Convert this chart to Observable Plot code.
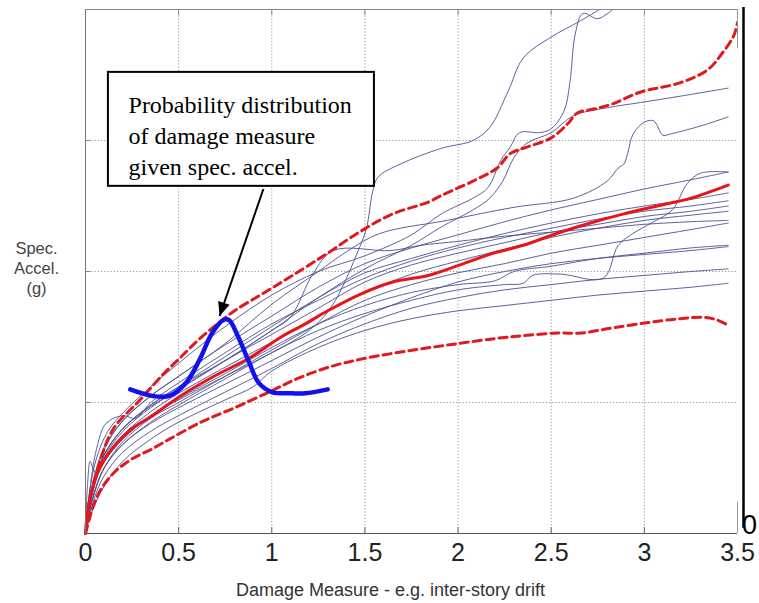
<!DOCTYPE html>
<html><head><meta charset="utf-8">
<script src="https://cdn.jsdelivr.net/npm/d3@7"></script>
<script src="https://cdn.jsdelivr.net/npm/@observablehq/plot@0.6"></script>
<style>body{margin:0;background:#fff;}</style>
</head><body><div id="chart"></div>
<script>
// ---- tick / grid values ----
const xTicks = [0, 0.5, 1, 1.5, 2, 2.5, 3, 3.5];
const yGrid = [1, 2, 3];

// ---- individual record IDA curves: [drift, Sa] ----
const gmA = [[0,0],[0.03,0.28],[0.1,0.55],[0.2,0.72],[0.35,0.9],[0.5,1.02],[0.75,1.2],[1.0,1.38],[1.2,1.55],[1.32,1.73],[1.47,2.18],[1.51,2.34],[1.54,2.6],[1.57,2.72],[1.69,2.82],[1.91,2.94],[2.08,3.0],[2.17,3.1],[2.27,3.38],[2.35,3.63],[2.5,3.79],[2.64,3.9],[2.76,4.0]];
const gmB = [[0,0],[0.02,0.3],[0.06,0.58],[0.12,0.78],[0.2,0.92],[0.35,1.12],[0.5,1.3],[0.75,1.58],[1.0,1.82],[1.25,2.0],[1.5,2.12],[1.75,2.28],[1.91,2.44],[2.08,2.56],[2.16,2.64],[2.23,2.85],[2.28,2.95],[2.33,3.06],[2.44,3.06],[2.5,3.09],[2.57,3.23],[2.6,3.44],[2.63,3.82],[2.67,3.97],[2.75,3.93],[2.83,4.0]];
const gmC = [[0,0],[0.03,0.3],[0.1,0.6],[0.2,0.8],[0.35,0.98],[0.5,1.12],[0.75,1.32],[1.0,1.55],[1.25,1.8],[1.5,2.02],[1.75,2.2],[1.91,2.34],[2.08,2.47],[2.17,2.56],[2.24,2.69],[2.3,2.87],[2.37,2.98],[2.5,3.06],[2.62,3.19],[2.8,3.25],[2.98,3.29],[3.2,3.34],[3.45,3.4]];
const gmD = [[0,0],[0.03,0.32],[0.1,0.64],[0.2,0.86],[0.35,1.05],[0.5,1.2],[0.75,1.45],[1.0,1.75],[1.25,2.0],[1.4,2.15],[1.58,2.29],[1.94,2.39],[2.3,2.49],[2.62,2.56],[2.8,2.69],[2.86,2.79],[2.89,2.82],[2.91,2.9],[2.94,3.05],[3.0,3.14],[3.05,3.15],[3.1,3.04],[3.14,3.05],[3.3,3.11],[3.45,3.18]];
const gmE = [[0,0],[0.02,0.2],[0.05,0.42],[0.1,0.6],[0.2,0.8],[0.35,0.97],[0.5,1.1],[0.75,1.32],[1.0,1.55],[1.1,1.65],[1.22,1.98],[1.33,2.16],[1.64,2.16],[1.8,2.2],[2.0,2.23],[2.25,2.27],[2.5,2.3],[2.75,2.33],[3.0,2.36],[3.25,2.38],[3.45,2.39]];
const gmF = [[0,0],[0.01,0.35],[0.025,0.55],[0.04,0.5],[0.06,0.45],[0.1,0.55],[0.2,0.72],[0.35,0.9],[0.5,1.03],[0.75,1.22],[1.0,1.42],[1.25,1.6],[1.5,1.74],[1.75,1.84],[2.0,1.9],[2.2,1.93],[2.3,2.0],[2.5,2.04],[2.75,2.1],[3.0,2.14],[3.25,2.18],[3.45,2.2]];
const gmG = [[0,0],[0.02,0.3],[0.06,0.65],[0.11,0.84],[0.2,0.9],[0.27,0.88],[0.35,1.0],[0.5,1.15],[0.75,1.38],[1.0,1.6],[1.25,1.78],[1.5,1.95],[1.75,2.08],[2.0,2.18],[2.25,2.26],[2.5,2.33],[2.75,2.4],[3.0,2.46],[3.25,2.5],[3.45,2.54]];
const gmH = [[0,0],[0.02,0.22],[0.05,0.4],[0.1,0.57],[0.2,0.75],[0.35,0.93],[0.5,1.07],[0.75,1.27],[1.0,1.46],[1.25,1.66],[1.5,1.84],[1.75,1.98],[2.0,2.08],[2.25,2.17],[2.5,2.26],[2.75,2.33],[3.0,2.39],[3.25,2.43],[3.45,2.46]];
const gmR = [[0,0],[0.03,0.22],[0.1,0.5],[0.2,0.68],[0.35,0.85],[0.5,0.98],[0.75,1.18],[1.0,1.38],[1.25,1.55],[1.5,1.68],[1.75,1.78],[2.0,1.86],[2.25,1.9],[2.35,1.91],[2.4,1.97],[2.55,1.98],[2.78,1.95],[2.86,2.2],[2.95,2.3],[3.05,2.38],[3.15,2.47],[3.23,2.67],[3.3,2.75],[3.45,2.76]];
const gmL1 = [[0,0],[0.02,0.25],[0.05,0.45],[0.1,0.66],[0.2,0.86],[0.35,1.05],[0.5,1.2],[0.75,1.44],[1.0,1.66],[1.25,1.88],[1.5,2.06],[1.75,2.18],[2.0,2.28],[2.25,2.38],[2.5,2.47],[2.75,2.55],[3.0,2.63],[3.25,2.7],[3.45,2.76]];
const gmL2 = [[0,0],[0.02,0.2],[0.05,0.4],[0.1,0.6],[0.2,0.8],[0.35,0.98],[0.5,1.12],[0.75,1.35],[1.0,1.58],[1.25,1.8],[1.5,1.99],[1.75,2.1],[2.0,2.2],[2.25,2.29],[2.5,2.37],[2.75,2.44],[3.0,2.5],[3.25,2.55],[3.45,2.6]];
const gmL3 = [[0,0],[0.02,0.18],[0.05,0.38],[0.1,0.58],[0.2,0.78],[0.35,0.96],[0.5,1.1],[0.75,1.32],[1.0,1.52],[1.25,1.72],[1.5,1.92],[1.75,2.05],[2.0,2.14],[2.25,2.22],[2.5,2.3],[2.75,2.36],[3.0,2.42],[3.25,2.46],[3.45,2.5]];
const gmL5 = [[0,0],[0.02,0.15],[0.05,0.32],[0.1,0.5],[0.2,0.7],[0.35,0.88],[0.5,1.0],[0.75,1.2],[1.0,1.4],[1.25,1.6],[1.5,1.78],[1.75,1.9],[2.0,1.99],[2.25,2.06],[2.5,2.14],[2.75,2.2],[3.0,2.26],[3.25,2.32],[3.45,2.37]];
const gmL6 = [[0,0],[0.02,0.16],[0.05,0.33],[0.1,0.5],[0.2,0.68],[0.35,0.84],[0.5,0.96],[0.75,1.14],[1.0,1.32],[1.25,1.5],[1.5,1.66],[1.75,1.8],[2.0,1.92],[2.25,2.0],[2.5,2.06],[2.75,2.1],[3.0,2.13],[3.25,2.16],[3.45,2.19]];
const gmL7 = [[0,0],[0.02,0.12],[0.05,0.28],[0.1,0.44],[0.2,0.62],[0.35,0.78],[0.5,0.9],[0.75,1.08],[1.0,1.26],[1.25,1.45],[1.5,1.6],[1.75,1.72],[2.0,1.8],[2.25,1.86],[2.5,1.9],[2.75,1.94],[3.0,1.97],[3.25,2.0],[3.45,2.02]];
const gmL8 = [[0,0],[0.03,0.15],[0.1,0.36],[0.2,0.55],[0.35,0.72],[0.5,0.85],[0.75,1.02],[0.9,1.12],[1.0,1.24],[1.25,1.42],[1.5,1.55],[1.75,1.64],[2.0,1.7],[2.25,1.74],[2.5,1.78],[2.75,1.82],[3.0,1.85],[3.25,1.88],[3.45,1.91]];

// ---- fractile curves ----
const median = [[0,0],[0.01,0.15],[0.064,0.46],[0.15,0.66],[0.24,0.79],[0.36,0.9],[0.51,1.05],[0.69,1.2],[0.88,1.34],[1.05,1.5],[1.18,1.6],[1.3,1.7],[1.48,1.83],[1.65,1.92],[1.84,1.97],[2.01,2.05],[2.19,2.14],[2.35,2.2],[2.53,2.29],[2.71,2.37],[2.89,2.44],[3.07,2.5],[3.25,2.56],[3.45,2.66]];
const p84 = [[0,0],[0.016,0.21],[0.08,0.56],[0.15,0.8],[0.3,1.03],[0.42,1.22],[0.5,1.33],[0.6,1.47],[0.7,1.59],[0.8,1.7],[0.95,1.83],[1.1,1.96],[1.3,2.14],[1.48,2.31],[1.65,2.44],[1.84,2.53],[1.91,2.58],[2.08,2.69],[2.21,2.79],[2.28,2.9],[2.37,2.95],[2.5,3.02],[2.59,3.13],[2.64,3.21],[2.73,3.24],[2.83,3.28],[2.98,3.37],[3.19,3.44],[3.34,3.54],[3.42,3.67],[3.48,3.8],[3.5,3.9]];
const p16 = [[0,0],[0.04,0.2],[0.08,0.33],[0.15,0.46],[0.25,0.57],[0.35,0.64],[0.45,0.72],[0.62,0.85],[0.8,0.96],[1.0,1.09],[1.15,1.19],[1.33,1.28],[1.51,1.34],[1.76,1.4],[2.0,1.45],[2.21,1.49],[2.35,1.51],[2.53,1.53],[2.66,1.53],[2.83,1.57],[3.02,1.61],[3.19,1.64],[3.32,1.65],[3.39,1.63],[3.45,1.59]];

// ---- sketched distribution of DM given Sa ----
const pdfCurve = [[0.24,1.1],[0.36,1.05],[0.45,1.05],[0.54,1.15],[0.61,1.32],[0.68,1.53],[0.74,1.63],[0.77,1.63],[0.82,1.5],[0.88,1.3],[0.93,1.15],[1.0,1.08],[1.11,1.07],[1.18,1.07],[1.3,1.1]];

// ---- annotation ----
const noteText = "Probability distribution\nof damage measure\ngiven spec. accel.";
const noteBox = [{x1: 0.123, x2: 1.551, y1: 2.65, y2: 3.52}];
const noteAnchor = [{x: 0.231, y: 3.05}];
const arrow = [{x1: 0.955, y1: 2.63, x2: 0.72, y2: 1.66}];

const records = [gmA, gmB, gmC, gmD, gmE, gmF, gmG, gmH, gmR, gmL1, gmL2, gmL3, gmL5, gmL6, gmL7, gmL8];
const X = d => d[0], Y = d => d[1];

const headSymbol = {
  draw(ctx, size) {
    const r = Math.sqrt(size / Math.PI);
    ctx.moveTo(0, 0);
    ctx.lineTo(-r, -2.3 * r);
    ctx.lineTo(r, -2.3 * r);
    ctx.closePath();
  }
};

const gridStyle = {stroke: "#9a9a9a", strokeOpacity: 1, strokeDasharray: "1.2,2"};

const chart = Plot.plot({
  width: 759, height: 603,
  marginLeft: 85, marginRight: 22, marginTop: 9, marginBottom: 70,
  style: {fontFamily: "'Liberation Sans', Arial, sans-serif", background: "#fff", overflow: "visible"},
  x: {domain: [0, 3.5]},
  y: {domain: [0, 4], axis: null},
  marks: [
    Plot.gridX(xTicks.slice(1, -1), gridStyle),
    Plot.gridY(yGrid, gridStyle),
    ...records.map(c => Plot.line(c, {x: X, y: Y, stroke: "#4a5190", strokeOpacity: 0.9, strokeWidth: 1, curve: "catmull-rom", clip: true})),
    Plot.line(p16, {x: X, y: Y, stroke: "#e0191c", strokeWidth: 3, strokeDasharray: "8,5", curve: "catmull-rom"}),
    Plot.line(p84, {x: X, y: Y, stroke: "#e0191c", strokeWidth: 3, strokeDasharray: "8,5", curve: "catmull-rom", clip: true}),
    Plot.line(median, {x: X, y: Y, stroke: "#e8141a", strokeWidth: 3, curve: "catmull-rom"}),
    Plot.line(pdfCurve, {x: X, y: Y, stroke: "#1111ee", strokeWidth: 4.5, curve: "catmull-rom"}),
    // frame
    Plot.ruleY([0], {stroke: "#555", strokeWidth: 1.2}),
    Plot.ruleY([4], {stroke: "#888"}),
    Plot.ruleX([0], {stroke: "#777"}),
    Plot.ruleX([3.5], {y1: 3.70, y2: 4, stroke: "#999"}),
    Plot.ruleX([3.5], {y1: 0, y2: 0.24, stroke: "#999"}),
    Plot.ruleX([3.5], {dx: 6, y1: 0.04, y2: 4.015, stroke: "#000", strokeWidth: 2.5}),
    // inner ticks
    Plot.ruleX(xTicks.slice(1, -1), {y1: 0, y2: 0.045, stroke: "#666"}),
    Plot.ruleX(xTicks.slice(1, -1), {y1: 3.955, y2: 4, stroke: "#888"}),
    Plot.ruleY(yGrid, {x1: 0, x2: 0.03, stroke: "#888"}),
    Plot.axisX(xTicks, {tickSize: 0, tickPadding: 10, fontSize: 25, fill: "#222", label: null, tickFormat: d => String(d)}),
    Plot.text(["0"], {frameAnchor: "bottom-right", dx: 12, dy: 0, fontSize: 27, textAnchor: "middle", fill: "#000"}),
    Plot.text(["Damage Measure - e.g. inter-story drift"], {frameAnchor: "bottom", dx: -21, dy: 62, fontSize: 18, fill: "#333"}),
    Plot.text(["Spec.\nAccel.\n(g)"], {frameAnchor: "left", dx: -49, dy: -4, fontSize: 16.5, lineHeight: 1.2, textAnchor: "middle", fill: "#444"}),
    // annotation
    Plot.rect(noteBox, {x1: "x1", x2: "x2", y1: "y1", y2: "y2", fill: "#fff", stroke: "#000", strokeWidth: 2}),
    Plot.text(noteAnchor, {x: "x", y: "y", text: () => noteText, textAnchor: "start", lineAnchor: "middle", fontSize: 24, lineHeight: 1.31, fontFamily: "'Liberation Serif', 'Times New Roman', serif", fill: "#000"}),
    Plot.link(arrow, {x1: "x1", y1: "y1", x2: "x2", y2: "y2", stroke: "#000", strokeWidth: 2}),
    Plot.dot(arrow, {x: "x2", y: "y2", symbol: headSymbol, r: 6, fill: "#000", stroke: null, rotate: 18})
  ]
});
document.getElementById("chart").append(chart);
</script>
</body></html>
